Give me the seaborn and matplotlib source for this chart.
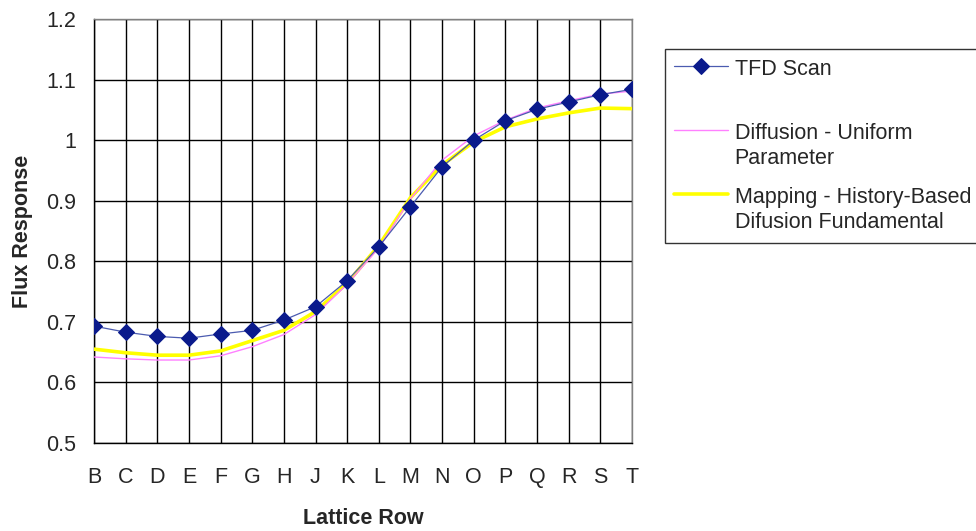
import numpy as np
import matplotlib
matplotlib.use('Agg')
import matplotlib.pyplot as plt
from matplotlib.legend_handler import HandlerLine2D
import pandas as pd
import seaborn as sns

# lattice rows (no "I")
rows = ['B', 'C', 'D', 'E', 'F', 'G', 'H', 'J', 'K', 'L',
        'M', 'N', 'O', 'P', 'Q', 'R', 'S', 'T']

tfd_scan = [0.693, 0.683, 0.676, 0.673, 0.680, 0.686, 0.703, 0.725, 0.768,
            0.824, 0.890, 0.956, 1.000, 1.032, 1.051, 1.063, 1.075, 1.084]
diffusion = [0.642, 0.639, 0.637, 0.637, 0.644, 0.659, 0.679, 0.712, 0.762,
             0.822, 0.903, 0.967, 1.007, 1.033, 1.053, 1.065, 1.076, 1.081]
mapping = [0.655, 0.649, 0.645, 0.645, 0.652, 0.669, 0.686, 0.717, 0.764,
           0.826, 0.905, 0.959, 0.997, 1.022, 1.035, 1.045, 1.053, 1.052]

y_ticks = [0.5, 0.6, 0.7, 0.8, 0.9, 1.0, 1.1, 1.2]
y_tick_labels = ['0.5', '0.6', '0.7', '0.8', '0.9', '1', '1.1', '1.2']

df = pd.DataFrame({'row': rows, 'tfd': tfd_scan,
                   'diff': diffusion, 'map': mapping})

sns.set_style('white')
plt.rcParams['font.family'] = ['Liberation Sans', 'DejaVu Sans']

FS = 15.5
LSP = 1.3


# legend handle lined up with the first line of a two line label
class FirstLineHandler(HandlerLine2D):
    def create_artists(self, legend, orig_handle, xdescent, ydescent,
                       width, height, fontsize, trans):
        return super().create_artists(legend, orig_handle, xdescent, ydescent,
                                      width, height + LSP * 1.2 * fontsize,
                                      fontsize, trans)


fig = plt.figure(figsize=(9.76, 5.31), dpi=100)
ax = fig.add_axes([0.0963, 0.1657, 0.5512, 0.7985])

sns.lineplot(data=df, x='row', y='map', ax=ax, color='#ffff00',
             linewidth=2.6, label='Mapping - History-Based\nDifusion Fundamental',
             sort=False, zorder=3)
sns.lineplot(data=df, x='row', y='diff', ax=ax, color='#ff80ff',
             linewidth=1.0, label='Diffusion - Uniform\nParameter',
             sort=False, zorder=4)
sns.lineplot(data=df, x='row', y='tfd', ax=ax, color='#4b5bb0',
             linewidth=0.9, marker='D', markersize=8,
             markerfacecolor='#0a1a8c', markeredgecolor='#0a1a8c',
             label='TFD Scan\n ', sort=False, zorder=5)
ax.legend_.remove()

ax.set_xlim(0, len(rows) - 1)
ax.set_ylim(0.5, 1.2)
ax.set_yticks(y_ticks)
ax.set_yticklabels(y_tick_labels)
ax.grid(True, color='black', linewidth=1.0)
ax.set_axisbelow(True)
for s in ax.spines.values():
    s.set_color('#808080')
    s.set_linewidth(1.0)
ax.spines['left'].set_color('black')
ax.spines['bottom'].set_color('black')
ax.tick_params(axis='y', length=3, width=1, color='black', pad=10, labelsize=FS)
ax.tick_params(axis='x', length=0, pad=17, labelsize=FS)
ax.set_xlabel('Lattice Row', fontsize=FS, fontweight='bold', labelpad=15)
ax.set_ylabel('Flux Response', fontsize=FS, fontweight='bold', labelpad=9)

handles, labels = ax.get_legend_handles_labels()
order = [2, 1, 0]
leg = fig.legend([handles[i] for i in order], [labels[i] for i in order],
                 loc='upper left', bbox_to_anchor=(0.681, 0.908),
                 frameon=True, fancybox=False, fontsize=FS,
                 handlelength=2.5, handletextpad=0.3, labelspacing=0.8,
                 borderpad=0.45, borderaxespad=0,
                 handler_map={h: FirstLineHandler() for h in handles})
leg.get_frame().set_edgecolor('black')
leg.get_frame().set_linewidth(1.0)
for t in leg.get_texts():
    t.set_linespacing(LSP)

fig.savefig('out.png', dpi=100)
